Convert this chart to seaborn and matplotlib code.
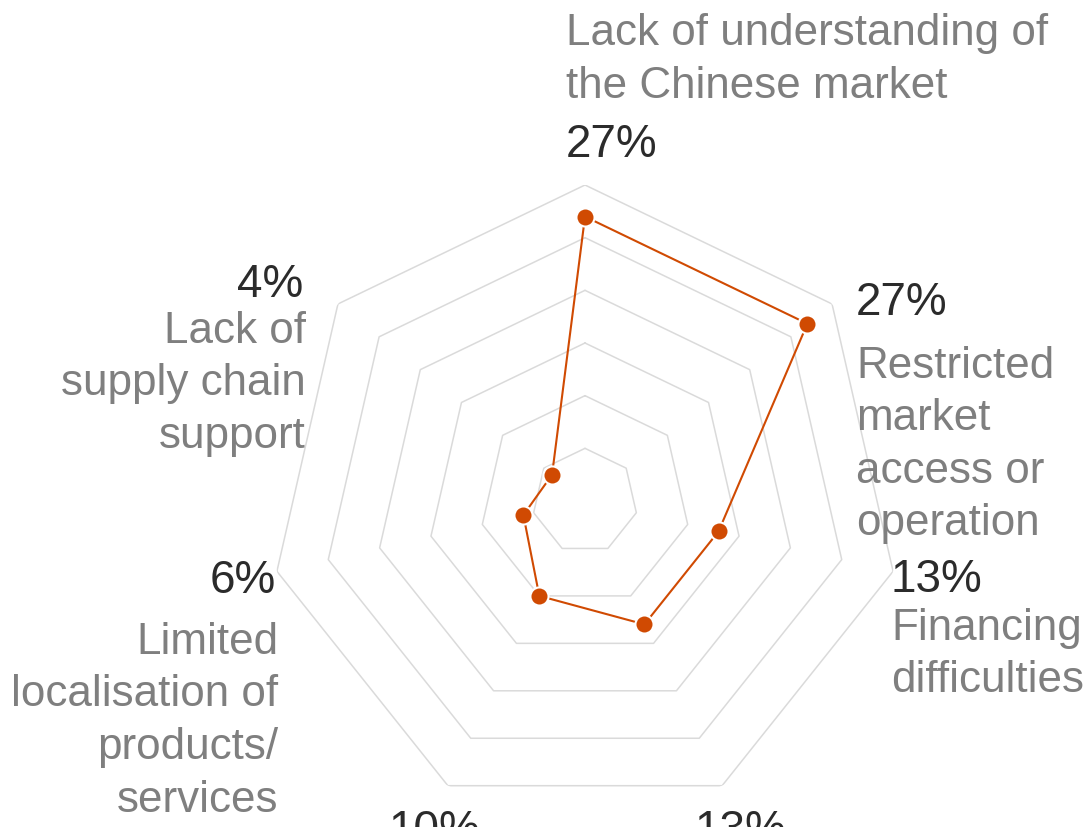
import numpy as np
import matplotlib
matplotlib.use("Agg")
import matplotlib.pyplot as plt
import seaborn as sns

# Data (clockwise from the top axis)
categories = [
    ["Lack of understanding of", "the Chinese market"],
    ["Restricted", "market", "access or", "operation"],
    ["Financing", "difficulties"],
    [],  # label cut off in the reference
    [],  # label cut off in the reference
    ["Limited", "localisation of", "products/", "services"],
    ["Lack of", "supply chain", "support"],
]
values = [27, 27, 13, 13, 10, 6, 4]
pct_labels = ["27%", "27%", "13%", "13%", "10%", "6%", "4%"]
ring_levels = [5, 10, 15, 20, 25, 30]

sns.set_theme(style="white")
plt.rcParams["font.family"] = ["Liberation Sans", "DejaVu Sans"]

W, H = 1090, 827
fig = plt.figure(figsize=(W / 100, H / 100), dpi=100)
fig.patch.set_facecolor("white")

# polar axes placed so the web sits where it does in the picture
cx, cy, R = 585, 501, 316
ax = fig.add_axes([(cx - R) / W, (H - cy - R) / H, 2 * R / W, 2 * R / H],
                  projection="polar")
ax.set_theta_offset(np.pi / 2)
ax.set_theta_direction(-1)
ax.set_ylim(0, 30)
ax.grid(False)
ax.set_xticks([])
ax.set_yticks([])
ax.spines["polar"].set_visible(False)
ax.patch.set_alpha(0)

n = len(values)
theta = np.linspace(0, 2 * np.pi, n, endpoint=False)
theta_closed = np.append(theta, 2 * np.pi)

# heptagon rings
for lvl in ring_levels:
    ax.plot(theta_closed, [lvl] * (n + 1), color="#dadada", lw=1.1, zorder=1)

orange = "#d04a02"
vals_closed = values + [values[0]]
sns.lineplot(x=theta_closed, y=vals_closed, sort=False, estimator=None,
             color=orange, lw=1.5, ax=ax, zorder=2)
sns.scatterplot(x=theta, y=values, s=170, color=orange, edgecolor="white",
                linewidth=1.5, ax=ax, zorder=3, clip_on=False)

LABEL_C = "#7f7f7f"
PCT_C = "#2b2b2b"
LS, PS = 31.7, 33


def put(x, y, text, ha, color, size):
    fig.text(x / W, 1 - y / H, text, ha=ha, va="baseline", color=color, fontsize=size)


def block(x, y0, lines, ha, step=52.5):
    for i, line in enumerate(lines):
        put(x, y0 + i * step, line, ha, LABEL_C, LS)


# top
block(566, 45, categories[0], "left")
put(566, 157, pct_labels[0], "left", PCT_C, PS)
# upper right
put(856, 315, pct_labels[1], "left", PCT_C, PS)
block(856, 378, categories[1], "left")
# lower right
put(891, 592, pct_labels[2], "left", PCT_C, PS)
block(891, 640, categories[2], "left")
# bottom (cut off by the picture edge, as in the reference)
put(694, 843, pct_labels[3], "left", PCT_C, PS)
put(389, 843, pct_labels[4], "left", PCT_C, PS)
# lower left
put(276, 593, pct_labels[5], "right", PCT_C, PS)
block(278, 654, categories[5], "right")
# upper left
put(303, 297, pct_labels[6], "right", PCT_C, PS)
block(306, 343, categories[6], "right")

fig.savefig("out.png", dpi=100)
